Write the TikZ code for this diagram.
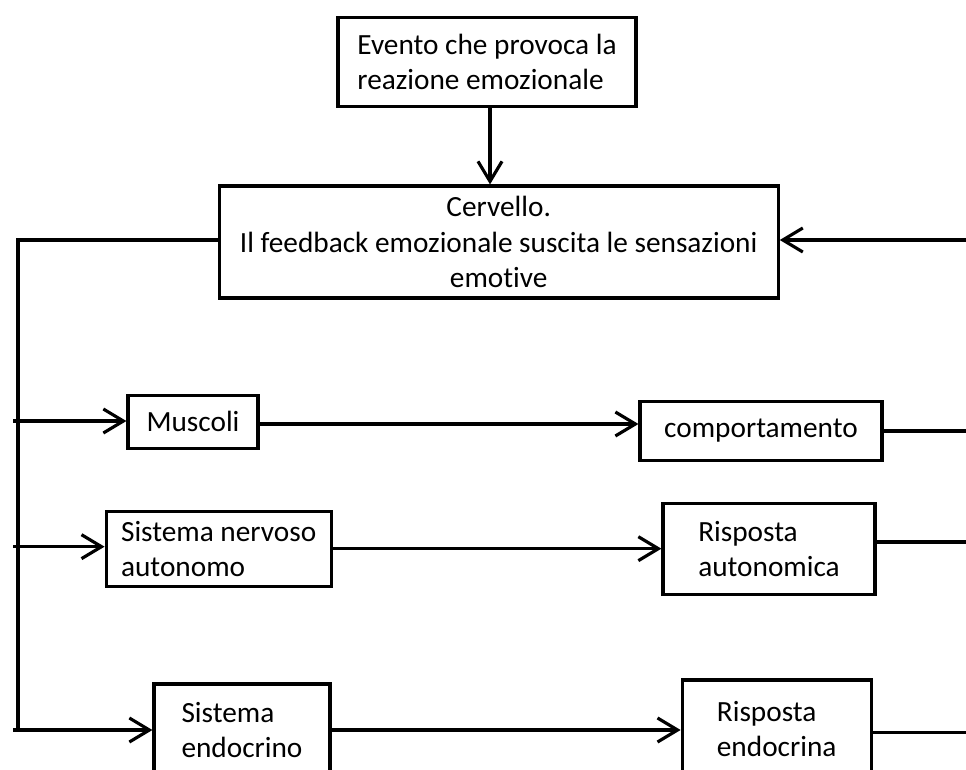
\documentclass[tikz,border=0pt]{standalone}
\usepackage{fontspec}
\setmainfont{Carlito}[Ligatures=NoCommon]
\usepackage{tikz}
\usetikzlibrary{arrows.meta, positioning, calc}

\begin{document}
\begin{tikzpicture}[
  font=\fontsize{25}{30}\selectfont,
  box/.style={draw=black, line width=2.7pt, inner sep=0pt, align=center},
  leftbox/.style={box, align=left},
  link/.style={line width=2.7pt, draw=black},
  arrow/.style={link, -{Straight Barb[length=0.6cm, width=0.72cm]}}
]
\useasboundingbox (0,0) rectangle (28.98,-23.1);
\clip (0,0) rectangle (28.98,-23.1);

\node[leftbox, minimum width=8.94cm, minimum height=2.67cm] (event) at (14.61,-1.85) {Evento che provoca la\\reazione emozionale};
\node[box, minimum width=16.77cm, minimum height=3.36cm] (brain) at (14.96,-7.26) {Cervello.\\Il feedback emozionale suscita le sensazioni\\emotive};

\node[box, minimum width=3.9cm, minimum height=1.59cm] (muscles) at (5.79,-12.65) {Muscoli};
\node[box, minimum width=7.26cm, minimum height=1.77cm] (behaviour) at (22.83,-12.93) {comportamento};

\node[leftbox, minimum width=6.75cm, minimum height=2.25cm] (ans) at (6.56,-16.46) {Sistema nervoso\\autonomo};
\node[leftbox, minimum width=6.36cm, minimum height=2.73cm] (ansresp) at (23.07,-16.46) {Risposta\\autonomica};

\node[leftbox, minimum width=5.28cm, minimum height=2.76cm] (endo) at (7.26,-21.9) {Sistema\\endocrino};
\node[leftbox, minimum width=5.67cm, minimum height=2.94cm] (endoresp) at (23.3,-21.87) {Risposta\\endocrina};

\coordinate (bustop) at (0.54,-7.2);
\coordinate (busbot) at (0.54,-21.9);
\coordinate (fbin) at (28.98,-7.2);
\coordinate (tap1) at (0.39,-12.63);
\coordinate (tap2) at (0.39,-16.4);
\coordinate (tap3) at (0.39,-21.9);
\coordinate (edge) at (28.98,0);

\draw[arrow] ($(event.south)+(0.09,0)$) -- ($(event.south |- brain.north)+(0.09,0)$);
\draw[arrow] (fbin) -- (fbin -| brain.east);
\draw[link] (brain.west |- bustop) -- (bustop) -- (busbot);

\draw[arrow] (tap1) -- (tap1 -| muscles.west);
\draw[arrow] (tap2) -- (tap2 -| ans.west);
\draw[arrow] (tap3) -- (tap3 -| endo.west);

\draw[arrow] ($(muscles.east)+(0,-0.07)$) -- ($(muscles.east -| behaviour.west)+(0,-0.07)$);
\draw[arrow] (ans.east) -- (ans.east -| ansresp.west);
\draw[arrow] (endo.east) -- (endo.east -| endoresp.west);

\draw[link] (behaviour.east) -- (behaviour.east -| edge);
\draw[link] ($(ansresp.east)+(0,0.2)$) -- ($(ansresp.east -| edge)+(0,0.2)$);
\draw[link] ($(endoresp.east)+(0,-0.1)$) -- ($(endoresp.east -| edge)+(0,-0.1)$);
\end{tikzpicture}
\end{document}
